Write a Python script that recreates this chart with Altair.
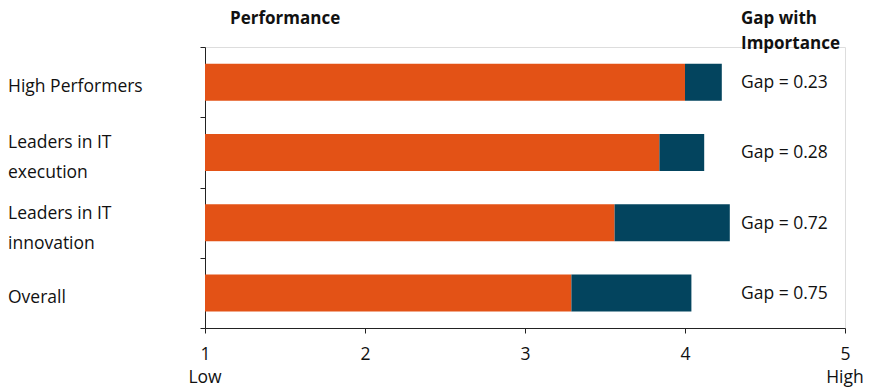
import altair as alt
import pandas as pd

categories = ["High Performers", "Leaders in IT\nexecution", "Leaders in IT\ninnovation", "Overall"]
performance = [4.00, 3.84, 3.56, 3.29]
gap = [0.23, 0.28, 0.72, 0.75]
gap_labels = ["Gap = 0.23", "Gap = 0.28", "Gap = 0.72", "Gap = 0.75"]
x_ticks = [1, 2, 3, 4, 5]
x_end_labels = ["Low", "High"]

FONT = "Open Sans"
FS = 17.5
ORANGE = "#E35216"
NAVY = "#03445E"

rows = []
for c, p, g in zip(categories, performance, gap):
    rows.append({"cat": c, "series": "Performance", "start": 1.0, "end": p})
    rows.append({"cat": c, "series": "Gap", "start": p, "end": p + g})
bars_df = pd.DataFrame(rows)
lab_df = pd.DataFrame({"cat": categories, "gaplab": gap_labels,
                       "multi": ["\n" in c for c in categories]})
ends_df = pd.DataFrame({"x": [x_ticks[0], x_ticks[-1]], "lab": x_end_labels})

yscale = alt.Scale(domain=categories, paddingInner=0, paddingOuter=0)
xscale = alt.Scale(domain=[1, 5], nice=False, zero=False)

bars = alt.Chart(bars_df).mark_bar(size=37).encode(
    x=alt.X("start:Q", scale=xscale,
            axis=alt.Axis(values=x_ticks, title=None, format="d", tickSize=5,
                          labelFontSize=FS, labelPadding=12, labelFont=FONT,
                          labelColor="#111", domainColor="#222", tickColor="#222",
                          grid=False, labelFlush=False)),
    x2="end:Q",
    y=alt.Y("cat:N", scale=yscale, sort=categories,
            axis=alt.Axis(labels=False, title=None, tickBand="extent", tickSize=5,
                          domainColor="#222", tickColor="#222", grid=False)),
    color=alt.Color("series:N", scale=alt.Scale(domain=["Performance", "Gap"], range=[ORANGE, NAVY]),
                    legend=None),
)

cat_single = alt.Chart(lab_df).transform_filter("!datum.multi").mark_text(
    align="left", baseline="middle", fontSize=FS, font=FONT, dy=5, color="#111").encode(
    y=alt.Y("cat:N", scale=yscale, sort=categories),
    x=alt.value(-197),
    text="cat:N",
)

cat_multi = alt.Chart(lab_df).transform_filter("datum.multi").mark_text(
    align="left", baseline="middle", fontSize=FS, font=FONT, dy=-9,
    lineBreak="\n", lineHeight=30, color="#111").encode(
    y=alt.Y("cat:N", scale=yscale, sort=categories),
    x=alt.value(-197),
    text="cat:N",
)

gap_text = alt.Chart(lab_df).mark_text(align="left", baseline="middle", fontSize=FS, font=FONT,
                                       dy=1, color="#111").encode(
    y=alt.Y("cat:N", scale=yscale, sort=categories),
    x=alt.value(536),
    text="gaplab:N",
)

end_text = alt.Chart(ends_df).mark_text(align="center", baseline="middle", fontSize=FS, font=FONT,
                                        color="#111").encode(
    x=alt.X("x:Q", scale=xscale),
    y=alt.value(331),
    text="lab:N",
)

title_df = pd.DataFrame({"t": ["Performance"]})
perf_title = alt.Chart(title_df).mark_text(align="left", baseline="middle", fontSize=17, font=FONT,
                                           fontWeight="bold", color="#111").encode(
    x=alt.value(25), y=alt.value(-28), text="t:N")

gap_title_df = pd.DataFrame({"t": ["Gap with\nImportance"]})
gap_title = alt.Chart(gap_title_df).mark_text(align="left", baseline="middle", fontSize=17, font=FONT,
                                              fontWeight="bold", color="#111", lineBreak="\n",
                                              lineHeight=25).encode(
    x=alt.value(536), y=alt.value(-28), text="t:N")

chart = alt.layer(bars, cat_single, cat_multi, gap_text, end_text, perf_title, gap_title).properties(
    width=640, height=281,
    autosize=alt.AutoSizeParams(type="none"),
    padding={"left": 205, "top": 47, "right": 37, "bottom": 64},
).configure_view(stroke=None).configure(background="white")

chart.save("out.html", embed_options={"renderer": "svg", "actions": False})
